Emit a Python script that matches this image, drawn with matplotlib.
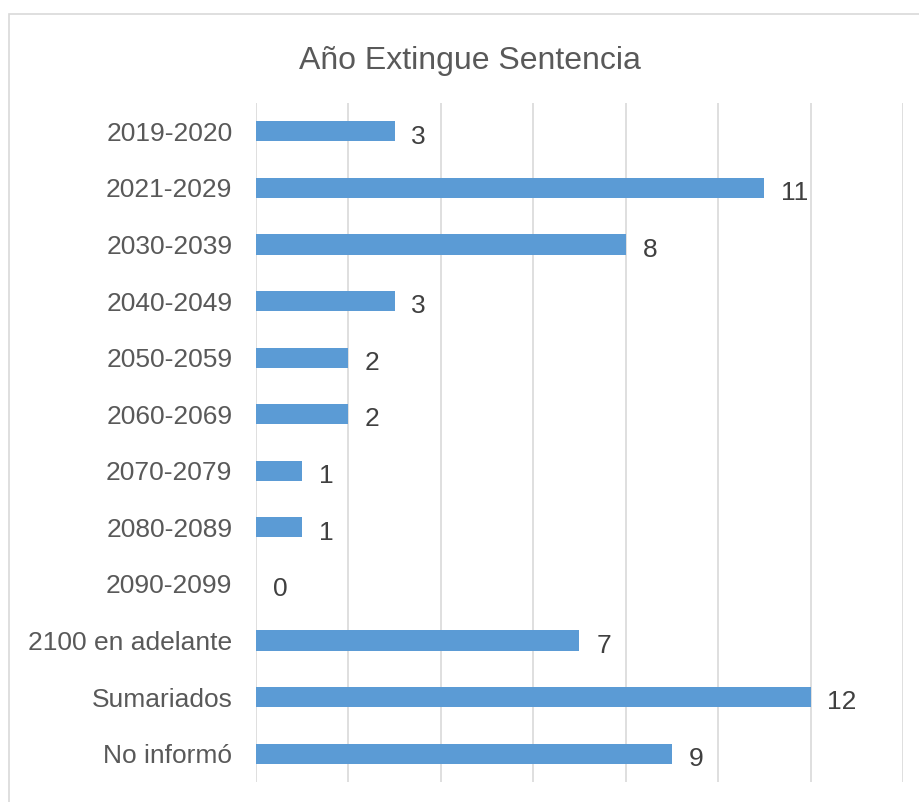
import matplotlib.pyplot as plt
from matplotlib.patches import Rectangle

categories = ['2019-2020', '2021-2029', '2030-2039', '2040-2049', '2050-2059',
              '2060-2069', '2070-2079', '2080-2089', '2090-2099',
              '2100 en adelante', 'Sumariados', 'No informó']
values = [3, 11, 8, 3, 2, 2, 1, 1, 0, 7, 12, 9]

plt.rcParams['font.family'] = ['Liberation Sans', 'DejaVu Sans']

fig = plt.figure(figsize=(9.2, 8.02), dpi=100)
ax = fig.add_axes([256 / 920, 1 - 782 / 802, (903 - 256) / 920, (782 - 103) / 802])

# chart border (runs past the right and bottom edges of the image)
fig.patches.append(Rectangle((9 / 920, -0.1), 1.2, 1 - 14 / 802 + 0.1,
                             transform=fig.transFigure, fill=False,
                             edgecolor='#d9d9d9', linewidth=1.2))

y = list(range(len(categories)))
ax.barh(y, values, height=0.355, color='#5b9bd5', zorder=3)
for yi, v in zip(y, values):
    ax.annotate(str(v), (v, yi), xytext=(12, -2), textcoords='offset points',
                ha='left', va='center_baseline', fontsize=19, color='#404040')

ax.set_xlim(0, 14)
ax.set_ylim(len(categories) - 0.5, -0.5)
ax.set_yticks(y)
ax.set_yticklabels(categories, fontsize=19, color='#595959')
ax.tick_params(axis='y', length=0, pad=17)
ax.set_xticks(range(0, 15, 2))
ax.tick_params(axis='x', length=0, labelbottom=False)
ax.xaxis.grid(True, color='#d9d9d9', linewidth=1.2)
ax.set_axisbelow(True)
for s in ax.spines.values():
    s.set_visible(False)

fig.text(470 / 920, 1 - 57 / 802, 'Año Extingue Sentencia', fontsize=23,
         color='#595959', ha='center', va='center_baseline')

fig.savefig('out.png', dpi=100)
